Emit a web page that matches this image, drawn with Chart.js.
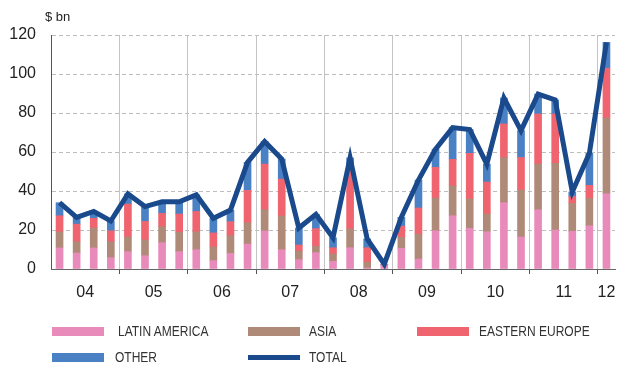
<!DOCTYPE html>
<html>
<head>
<meta charset="utf-8">
<script src="https://cdn.jsdelivr.net/npm/chart.js@4/dist/chart.umd.min.js"></script>
<style>
  html, body { margin:0; padding:0; background:#fff; }
  #wrap { position:relative; width:619px; height:367px; overflow:hidden; }
  #c { position:absolute; left:0; top:0; }
  .unit { position:absolute; left:45px; top:9px; font:13px "Liberation Sans", Arial, sans-serif; color:#222; line-height:16px; }
  .sw { position:absolute; width:52px; }
  .lt { position:absolute; font:15px "Liberation Sans", Arial, sans-serif; color:#333; height:18px; line-height:18px;
        white-space:nowrap; transform:scaleX(0.8); transform-origin:left center; }
</style>
</head>
<body>
<div id="wrap">
  <canvas id="c" width="619" height="367"></canvas>
  <div class="unit">$ bn</div>
  <div class="sw" style="left:52px;top:327px;height:9px;background:#E98BBA"></div>
  <div class="lt" style="left:118px;top:322px">LATIN AMERICA</div>
  <div class="sw" style="left:248px;top:327px;height:9px;background:#B08A78"></div>
  <div class="lt" style="left:309px;top:322px">ASIA</div>
  <div class="sw" style="left:417px;top:327px;height:9px;background:#F06470"></div>
  <div class="lt" style="left:479px;top:322px">EASTERN EUROPE</div>
  <div class="sw" style="left:52px;top:353px;height:9px;background:#4A80C4"></div>
  <div class="lt" style="left:115px;top:348px">OTHER</div>
  <div class="sw" style="left:248px;top:355px;height:5px;background:#1A4A8C"></div>
  <div class="lt" style="left:309px;top:348px">TOTAL</div>
</div>
<script>
const categories = [
  '2004Q1','2004Q2','2004Q3','2004Q4',
  '2005Q1','2005Q2','2005Q3','2005Q4',
  '2006Q1','2006Q2','2006Q3','2006Q4',
  '2007Q1','2007Q2','2007Q3','2007Q4',
  '2008Q1','2008Q2','2008Q3','2008Q4',
  '2009Q1','2009Q2','2009Q3','2009Q4',
  '2010Q1','2010Q2','2010Q3','2010Q4',
  '2011Q1','2011Q2','2011Q3','2011Q4',
  '2012Q1'
];
const latinAmerica = [10.8,8.2,10.8,5.8, 8.9,6.8,13.5,8.9, 9.9,4.3,8.0,12.8, 19.5,9.9,4.8,8.4, 3.9,10.9,0.5,2.0, 10.6,5.1,19.6,27.3, 20.8,19.1,34.0,16.4, 30.4,20.0,19.3,22.2, 38.6];
const asia         = [8.2,5.8,10.2,8.2, 7.5,8.1,8.2,9.9, 9.2,7.0,9.1,10.9, 10.9,17.3,4.4,3.2, 3.8,9.6,3.0,0.3, 5.6,12.8,16.8,15.3, 15.1,9.1,23.1,24.1, 23.4,34.2,14.3,14.0, 38.8];
const easternEurope= [8.3,9.0,5.0,5.6, 16.9,9.5,6.8,9.4, 10.4,7.2,7.2,16.6, 23.4,18.9,3.1,9.1, 3.2,31.6,7.4,0.0, 5.8,13.4,15.7,13.6, 23.4,16.4,17.3,16.7, 25.7,25.3,3.6,6.7, 25.6];
const other        = [6.7,3.5,3.5,5.0, 5.2,7.6,6.0,6.3, 8.5,7.5,5.9,14.4, 11.6,10.3,8.7,7.3, 5.1,4.9,4.5,0.2, 4.5,14.3,9.4,16.3, 12.2,9.2,13.3,13.8, 10.2,7.2,2.3,16.4, 13.2];
const total        = [34.0,26.5,29.5,24.6, 38.5,32.0,34.5,34.5, 38.0,26.0,30.2,54.7, 65.4,56.4,21.0,28.0, 16.0,57.0,15.4,2.5, 26.5,45.6,61.5,72.5, 71.5,53.8,87.7,71.0, 89.7,86.7,39.5,59.3, 116.2];
const yearLabels = ['04','05','06','07','08','09','10','11','12'];
const yTicks = [0,20,40,60,80,100,120];

const yearOf = c => c.slice(2,4);
const yearMid = {};
categories.forEach((c,i) => {
  const y = yearOf(c);
  if (!yearMid[y]) yearMid[y] = {first:i, last:i};
  yearMid[y].last = i;
});
const isYearBoundary = i => i > 0 && i < categories.length && yearOf(categories[i]) !== yearOf(categories[i-1]);

const barDs = (label, data, color) => ({
  type:'bar', label, data, backgroundColor: color, borderWidth:0,
  barThickness:7, stack:'regions', order:1, xAxisID:'x', yAxisID:'y'
});

new Chart(document.getElementById('c'), {
  data: {
    labels: categories,
    datasets: [
      {type:'line', label:'TOTAL', data: total, borderColor:'#1A4A8C', borderWidth:5,
       pointRadius:0, tension:0, fill:false, stack:'total', order:0, xAxisID:'x', yAxisID:'y',
       borderJoinStyle:'miter'},
      barDs('LATIN AMERICA', latinAmerica, '#E98BBA'),
      barDs('ASIA', asia, '#B08A78'),
      barDs('EASTERN EUROPE', easternEurope, '#F06470'),
      barDs('OTHER', other, '#4A80C4')
    ]
  },
  options: {
    responsive:false, animation:false, devicePixelRatio:1,
    layout:{ padding:{ left:0, right:4, top:35, bottom:0 } },
    plugins:{ legend:{display:false}, tooltip:{enabled:false} },
    scales: {
      x: {
        type:'category', stacked:true, offset:true, position:'bottom',
        grid:{ offset:true, drawOnChartArea:true, tickLength:5,
          color: ctx => isYearBoundary(ctx.index) ? '#c4c4c4' : 'rgba(0,0,0,0)',
          tickColor: ctx => isYearBoundary(ctx.index) ? '#555' : 'rgba(0,0,0,0)',
          lineWidth:1 },
        border:{ display:true, color:'#666', width:1 },
        ticks:{ display:false },
        afterFit: s => { s.height = 0; s.paddingLeft = 0; s.paddingRight = 0; }
      },
      x2: {
        type:'linear', position:'bottom', min:0, max:categories.length,
        grid:{ display:false, drawTicks:false }, border:{ display:false },
        afterBuildTicks: s => {
          s.ticks = Object.keys(yearMid).sort().map(y => ({ value:(yearMid[y].first + yearMid[y].last + 1)/2 }));
        },
        ticks:{ autoSkip:false, maxRotation:0, padding:14, color:'#222',
          font:{ family:'"Liberation Sans", Arial, sans-serif', size:16 },
          callback: (v, i) => yearLabels[i] },
        afterFit: s => { s.height = 98; s.paddingLeft = 0; s.paddingRight = 0; }
      },
      y: {
        stacked:true, min:0, max:120,
        afterBuildTicks: s => { s.ticks = yTicks.map(v => ({value:v})); },
        grid:{ drawTicks:false, lineWidth:1,
          color: ctx => ctx.tick && ctx.tick.value === 0 ? 'rgba(0,0,0,0)' : '#bdbdbd' },
        border:{ display:true, color:'#555', width:1, dash:[4,3] },
        ticks:{ padding:15, color:'#222',
          font:{ family:'"Liberation Sans", Arial, sans-serif', size:16 } },
        afterFit: s => { s.width = 51; s.paddingTop = 0; s.paddingBottom = 0; }
      }
    }
  }
});
</script>
</body>
</html>
